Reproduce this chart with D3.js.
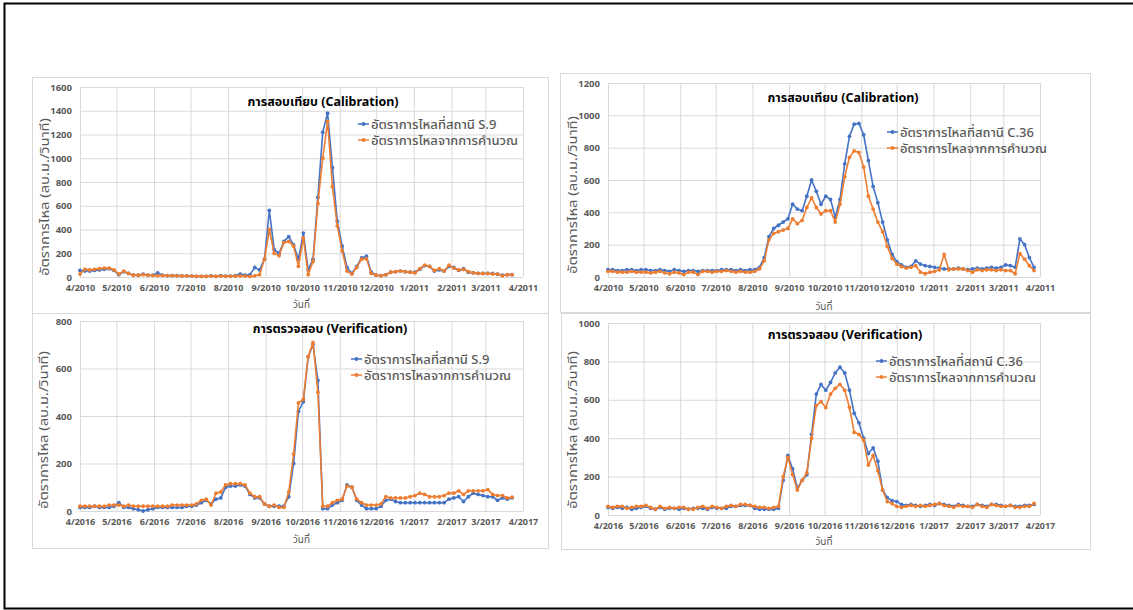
<!DOCTYPE html>
<html>
<head>
<meta charset="utf-8">
<script src="https://cdn.jsdelivr.net/npm/d3@7"></script>
<style>
  body { margin: 0; background: #fff; }
  svg text { font-family: "Noto Sans", "Noto Sans Thai", "Tahoma", sans-serif; }
</style>
</head>
<body>
<svg id="chart" width="1133" height="610"></svg>
<script>
// month labels on the date axis
var calTicks = ["4/2010","5/2010","6/2010","7/2010","8/2010","9/2010","10/2010","11/2010","12/2010","1/2011","2/2011","3/2011","4/2011"];
var verTicks = ["4/2016","5/2016","6/2016","7/2016","8/2016","9/2016","10/2016","11/2016","12/2016","1/2017","2/2017","3/2017","4/2017"];

// one value every 4 days, from 1 April
var stepDays = 4;

// S.9 calibration 2010-11
var s9CalObs = [55,50,50,55,60,65,70,55,20,45,30,15,15,25,15,15,35,15,12,12,12,10,10,8,6,6,6,10,6,12,8,8,12,25,15,20,80,60,150,560,230,200,300,340,270,150,370,60,150,670,1220,1380,920,470,260,80,30,90,160,175,40,15,12,20,40,45,50,45,40,40,65,95,90,50,60,50,90,80,55,70,40,35,30,30,30,30,25,15,20,20];
var s9CalSim = [25,65,60,65,70,75,75,60,25,50,30,15,15,20,15,12,12,12,12,12,10,10,10,8,5,5,5,8,5,8,6,6,8,10,8,5,10,20,150,400,200,180,290,300,260,90,330,20,130,620,1000,1310,760,430,220,50,25,80,150,155,30,15,10,20,40,45,50,45,40,35,70,100,90,55,70,50,100,75,60,65,45,35,30,30,30,25,25,10,20,20];

// C.36 calibration 2010-11
var c36CalObs = [45,45,40,40,45,45,40,45,45,40,40,45,40,35,45,40,35,40,40,35,40,40,40,40,45,45,45,40,45,40,45,45,60,120,250,300,320,340,360,450,420,410,500,600,530,450,500,480,370,480,700,870,945,950,880,720,560,460,340,230,140,95,75,60,65,100,80,70,65,60,55,50,50,50,55,50,45,50,55,50,55,60,55,60,75,70,60,235,200,120,60];
var c36CalSim = [35,35,30,30,30,35,30,30,30,25,30,35,25,20,30,25,15,30,30,15,35,35,30,35,35,40,35,30,35,30,30,35,50,100,230,270,280,290,300,360,330,350,430,490,430,390,410,410,340,450,620,740,780,770,680,500,420,340,280,190,115,80,65,55,60,70,30,20,30,35,45,140,45,50,50,50,40,30,45,40,45,45,40,45,40,40,20,145,110,70,40];

// S.9 verification 2016-17
var s9VerObs = [15,15,15,20,15,15,15,20,35,15,15,10,5,0,5,10,15,15,15,15,15,15,20,20,25,35,45,30,50,55,100,105,105,110,105,70,55,55,30,20,20,20,20,60,200,420,460,650,700,550,10,10,25,35,45,110,100,45,25,10,10,10,20,45,50,40,35,35,35,35,35,35,35,35,35,35,50,55,60,40,60,75,70,65,60,60,45,55,50,55];
var s9VerSim = [20,20,20,20,20,20,25,25,25,20,25,20,20,20,20,20,20,20,20,25,25,25,25,25,30,45,50,25,75,80,110,115,115,115,110,75,60,60,30,20,25,15,15,80,240,455,470,650,710,500,20,20,35,45,50,105,100,50,35,25,25,25,30,60,55,55,55,55,60,65,75,70,60,60,60,65,75,75,85,70,85,85,85,85,90,70,65,65,55,58];

// C.36 verification 2016-17
var c36VerObs = [40,35,40,35,40,30,35,40,45,35,30,40,30,35,35,30,35,30,35,35,35,30,40,35,35,35,45,45,50,50,50,35,30,30,30,30,35,180,310,240,140,180,210,420,630,680,650,690,740,770,740,650,530,480,400,320,350,280,130,90,75,70,55,50,55,50,45,50,55,50,60,55,50,45,55,50,45,45,55,50,45,55,55,50,45,50,45,45,50,50,55];
var c36VerSim = [45,40,45,45,35,40,45,45,50,40,30,45,35,40,35,40,40,30,30,40,45,35,45,40,35,45,50,45,55,55,50,45,40,40,35,40,45,200,300,210,130,180,220,400,570,590,560,630,660,680,650,560,430,420,390,260,310,230,130,70,60,45,40,45,50,45,50,45,50,55,60,50,45,40,50,45,45,40,55,45,40,55,50,45,45,50,40,40,45,45,60];

var blue = "#4472C4", orange = "#ED7D31", grid = "#d9d9d9", tickGray = "#595959";
var simName = "อัตราการไหลจากการคำนวณ";
var yTitle = "อัตราการไหล (ลบ.ม./วินาที)";

var panels = [
  { box: [32, 77, 548, 313], l: 80, r: 523, t: 87, b: 277, yMax: 1600, start: "2010-04-01",
    ticks: calTicks, obs: s9CalObs, sim: s9CalSim, title: "การสอบเทียบ (Calibration)", tx: 323, ty: 106,
    obsName: "อัตราการไหลที่สถานี S.9", lx: 358, ly: 124, ytx: 45, yty: 197, xtY: 308 },
  { box: [560, 73, 1090, 312], l: 608, r: 1040, t: 83, b: 277, yMax: 1200, start: "2010-04-01",
    ticks: calTicks, obs: c36CalObs, sim: c36CalSim, title: "การสอบเทียบ (Calibration)", tx: 843, ty: 102,
    obsName: "อัตราการไหลที่สถานี C.36", lx: 887, ly: 132, ytx: 573, yty: 195, xtY: 310 },
  { box: [32, 313, 548, 548], l: 80, r: 523, t: 321, b: 511, yMax: 800, start: "2016-04-01",
    ticks: verTicks, obs: s9VerObs, sim: s9VerSim, title: "การตรวจสอบ (Verification)", tx: 330, ty: 333,
    obsName: "อัตราการไหลที่สถานี S.9", lx: 351, ly: 359, ytx: 44, yty: 430, xtY: 543 },
  { box: [561, 313, 1090, 549], l: 608, r: 1040, t: 323, b: 515, yMax: 1000, start: "2016-04-01",
    ticks: verTicks, obs: c36VerObs, sim: c36VerSim, title: "การตรวจสอบ (Verification)", tx: 845, ty: 339,
    obsName: "อัตราการไหลที่สถานี C.36", lx: 876, ly: 361, ytx: 573, yty: 430, xtY: 545 }
];

var svg = d3.select("#chart");

// outer frame of the picture
svg.append("path")
   .attr("d", "M1133,3.5 L4.5,3.5 L4.5,608.5 L1133,608.5")
   .attr("fill", "none")
   .attr("stroke", "#000")
   .attr("stroke-width", 2);

function parseLabel(s)
{
    var p = s.split("/");
    return new Date(+p[1], +p[0] - 1, 1);
}

panels.forEach(function(p)
{
    svg.append("rect")
       .attr("x", p.box[0] + 0.5).attr("y", p.box[1] + 0.5)
       .attr("width", p.box[2] - p.box[0]).attr("height", p.box[3] - p.box[1])
       .attr("fill", "#fff").attr("stroke", grid).attr("stroke-width", 1);

    var start = d3.timeParse("%Y-%m-%d")(p.start);
    var end = d3.timeYear.offset(start, 1);
    var x = d3.scaleTime().domain([start, end]).range([p.l, p.r]);
    var y = d3.scaleLinear().domain([0, p.yMax]).range([p.b, p.t]);
    var tickDates = p.ticks.map(parseLabel);

    var g = svg.append("g");

    // horizontal grid + y labels
    var ya = g.append("g")
       .attr("transform", "translate(" + p.l + ",0)")
       .call(d3.axisLeft(y).ticks(p.yMax / 200).tickFormat(d3.format("d"))
             .tickSize(-(p.r - p.l)).tickPadding(8));
    ya.select(".domain").remove();
    ya.selectAll("line").attr("stroke", grid);
    ya.selectAll("text").attr("fill", tickGray).attr("font-size", 9.5).attr("font-weight", "bold");

    // vertical month grid + x labels
    var xa = g.append("g")
       .attr("transform", "translate(0," + p.b + ")")
       .call(d3.axisBottom(x).tickValues(tickDates).tickSize(-(p.b - p.t))
             .tickPadding(8).tickFormat(function(d, i) { return p.ticks[i]; }));
    xa.select(".domain").remove();
    xa.selectAll("line").attr("stroke", grid);
    xa.selectAll("text").attr("fill", tickGray).attr("font-size", 9).attr("font-weight", "bold");

    // axis titles
    g.append("text")
     .attr("transform", "translate(" + p.ytx + "," + p.yty + ") rotate(-90)")
     .attr("text-anchor", "middle").attr("dy", "0.35em")
     .attr("font-size", 12).attr("fill", tickGray)
     .attr("textLength", 158).attr("lengthAdjust", "spacingAndGlyphs")
     .text(yTitle);
    g.append("text")
     .attr("x", (p.l + p.r) / 2).attr("y", p.xtY)
     .attr("text-anchor", "middle")
     .attr("font-size", 10).attr("fill", tickGray)
     .text("วันที่");

    var line = d3.line()
        .x(function(d, i) { return x(d3.timeDay.offset(start, i * stepDays)); })
        .y(function(d) { return y(d); });

    [[p.obs, blue], [p.sim, orange]].forEach(function(s)
    {
        g.append("path")
         .datum(s[0])
         .attr("d", line)
         .attr("fill", "none")
         .attr("stroke", s[1])
         .attr("stroke-width", 1.6)
         .attr("stroke-linejoin", "round");
        g.append("g").selectAll("circle")
         .data(s[0])
         .enter().append("circle")
         .attr("cx", function(d, i) { return x(d3.timeDay.offset(start, i * stepDays)); })
         .attr("cy", function(d) { return y(d); })
         .attr("r", 1.9)
         .attr("fill", s[1]);
    });

    // title
    g.append("text")
     .attr("x", p.tx).attr("y", p.ty)
     .attr("text-anchor", "middle")
     .attr("font-size", 12.5).attr("font-weight", "bold").attr("fill", "#000")
     .text(p.title);

    // legend
    [[p.obsName, blue, p.ly], [simName, orange, p.ly + 16]].forEach(function(L)
    {
        g.append("line")
         .attr("x1", p.lx).attr("x2", p.lx + 11)
         .attr("y1", L[2]).attr("y2", L[2])
         .attr("stroke", L[1]).attr("stroke-width", 1.5);
        g.append("circle")
         .attr("cx", p.lx + 5.5).attr("cy", L[2]).attr("r", 1.9).attr("fill", L[1]);
        g.append("text")
         .attr("x", p.lx + 13).attr("y", L[2]).attr("dy", "0.35em")
         .attr("font-size", 13).attr("font-weight", 500).attr("fill", tickGray)
         .text(L[0]);
    });
});
</script>
</body>
</html>
